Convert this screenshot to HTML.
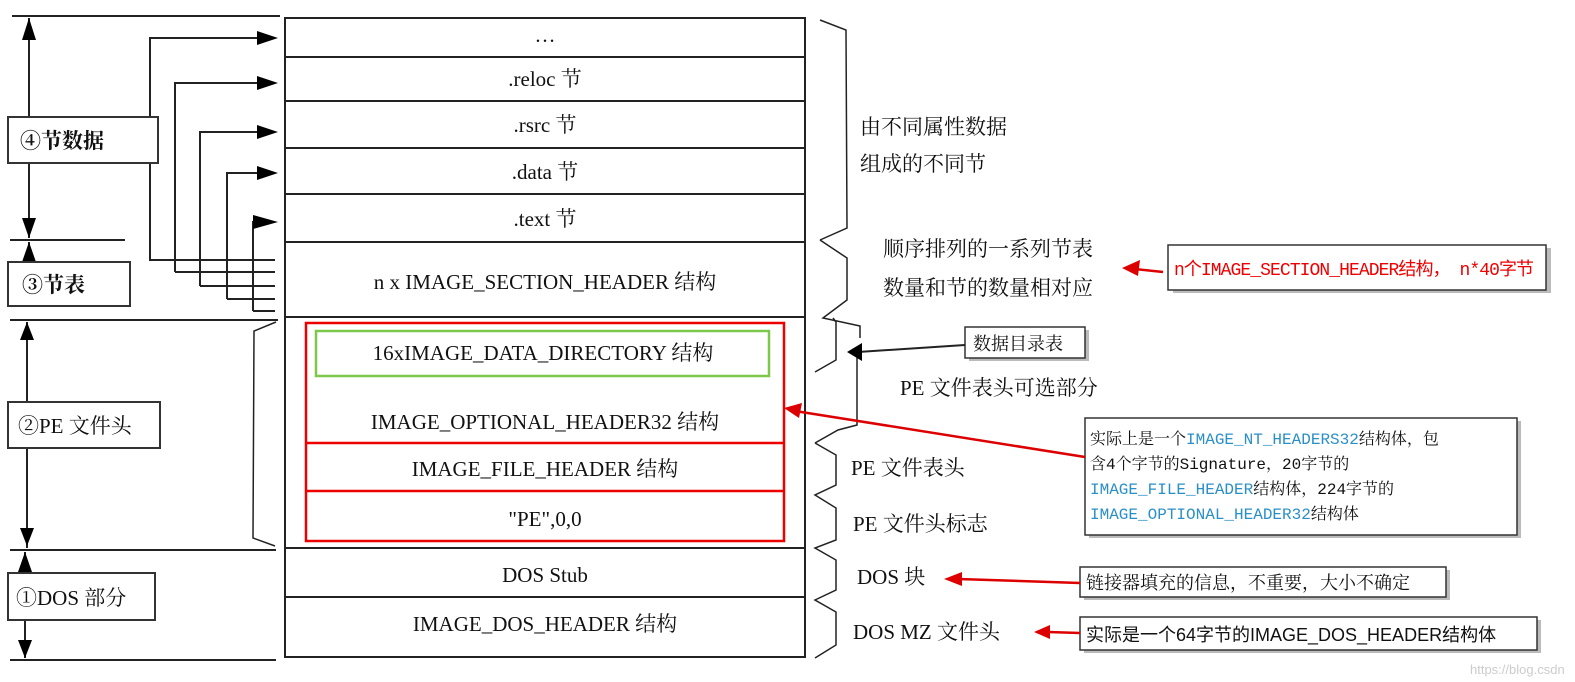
<!DOCTYPE html>
<html><head><meta charset="utf-8"><style>
html,body{margin:0;padding:0;background:#fff;}
svg{display:block;}
.s{font-family:"Liberation Serif","Noto Serif CJK SC",serif;font-size:21px;fill:#111;}
.c{font-family:"Liberation Serif","Noto Serif CJK SC",serif;font-size:18px;fill:#111;}
.m{font-family:"Liberation Mono","Noto Serif CJK SC",monospace;font-size:16px;fill:#111;}
.b{fill:#2a8fc8;}
</style></head><body>
<svg width="1575" height="682" viewBox="0 0 1575 682" xmlns="http://www.w3.org/2000/svg">
<g stroke="#222" stroke-width="2" fill="none">
<rect x="285" y="18" width="520" height="639"/>
<line x1="285" y1="57" x2="805" y2="57"/>
<line x1="285" y1="101" x2="805" y2="101"/>
<line x1="285" y1="148" x2="805" y2="148"/>
<line x1="285" y1="194" x2="805" y2="194"/>
<line x1="285" y1="242" x2="805" y2="242"/>
<line x1="285" y1="317" x2="805" y2="317"/>
<line x1="285" y1="548" x2="805" y2="548"/>
<line x1="285" y1="597" x2="805" y2="597"/>
<line x1="12" y1="16" x2="280" y2="16"/>
<line x1="10" y1="240" x2="125" y2="240"/>
<line x1="10" y1="320" x2="278" y2="320"/>
<line x1="10" y1="550" x2="276" y2="550"/>
<line x1="10" y1="660" x2="276" y2="660"/>
<line x1="29" y1="18" x2="29" y2="117"/><line x1="29" y1="163" x2="29" y2="238"/>
<line x1="29" y1="242" x2="29" y2="262"/>
<line x1="27" y1="322" x2="27" y2="402"/><line x1="27" y1="448" x2="27" y2="548"/>
<line x1="25" y1="552" x2="25" y2="573"/><line x1="25" y1="620" x2="25" y2="658"/>
<polyline points="150,117 150,38 260,38"/>
<polyline points="150,163 150,260 275,260"/>
<polyline points="175,272 175,83 260,83"/>
<polyline points="200,286 200,132 260,132"/>
<polyline points="227,299 227,173 260,173"/>
<polyline points="253,311 253,222 260,222"/>
<line x1="175" y1="272" x2="275" y2="272"/>
<line x1="200" y1="286" x2="275" y2="286"/>
<line x1="227" y1="299" x2="275" y2="299"/>
<line x1="253" y1="311" x2="275" y2="311"/>
<polyline points="276,322 254,331 253,538 275,546" stroke-width="1.5"/>
<polyline points="820,20 846,30 847,228 820,240" stroke-width="1.5"/>
<polyline points="820,240 847,258 847,300 823,318 860,326 860,338" stroke-width="1.5"/>
<polyline points="833,318 836,322 836,360 815,372" stroke-width="1.5"/>
<polyline points="857,355 857,425 838,430 815,443" stroke-width="1.5"/>
<polyline points="815,443 836,455 836,485 815,495 836,508 836,540 815,548 836,560 836,590 815,600 836,612 836,645 815,658" stroke-width="1.5"/>
</g>
<g fill="#000">
<path d="M22,40 L29,18 L36,40z"/><path d="M22,218 L29,238 L36,218z"/><path d="M22,262 L29,242 L36,262z"/>
<path d="M20,340 L27,322 L34,340z"/><path d="M20,528 L27,546 L34,528z"/><path d="M18,572 L25,552 L32,572z"/>
<path d="M18,640 L25,658 L32,640z"/>
<path d="M257,31 L278,38 L257,45z"/>
<path d="M257,76 L278,83 L257,90z"/>
<path d="M257,125 L278,132 L257,139z"/>
<path d="M257,166 L278,173 L257,180z"/>
<path d="M253,215 L278,222 L253,229z"/>
</g>
<g fill="#fff" stroke="#333" stroke-width="2">
<rect x="8" y="117" width="150" height="46"/><rect x="8" y="262" width="122" height="44"/>
<rect x="8" y="402" width="152" height="46"/><rect x="8" y="573" width="147" height="47"/>
</g>
<text class="s" x="20" y="148" style="font-weight:bold">④节数据</text>
<text class="s" x="22" y="292" style="font-weight:bold">③节表</text>
<text class="s" x="18" y="433">②PE 文件头</text>
<text class="s" x="16" y="605">①DOS 部分</text>
<g class="s" text-anchor="middle">
<text x="545" y="42">…</text>
<text x="545" y="86">.reloc 节</text>
<text x="545" y="132">.rsrc 节</text>
<text x="545" y="179">.data 节</text>
<text x="545" y="226">.text 节</text>
<text x="545" y="289">n x IMAGE_SECTION_HEADER 结构</text>
<text x="543" y="360">16xIMAGE_DATA_DIRECTORY 结构</text>
<text x="545" y="429">IMAGE_OPTIONAL_HEADER32 结构</text>
<text x="545" y="476">IMAGE_FILE_HEADER 结构</text>
<text x="545" y="526">"PE",0,0</text>
<text x="545" y="582">DOS Stub</text>
<text x="545" y="631">IMAGE_DOS_HEADER 结构</text>
</g>
<g fill="none" stroke-width="2.5">
<rect x="306" y="323" width="478" height="218" stroke="#e00"/>
<line x1="306" y1="443" x2="784" y2="443" stroke="#e00"/>
<line x1="306" y1="491" x2="784" y2="491" stroke="#e00"/>
<rect x="316" y="331" width="453" height="45" stroke="#7dc84a"/>
</g>
<g class="s">
<text x="860" y="134">由不同属性数据</text>
<text x="860" y="171">组成的不同节</text>
<text x="883" y="256">顺序排列的一系列节表</text>
<text x="883" y="295">数量和节的数量相对应</text>
<text x="900" y="395">PE 文件表头可选部分</text>
<text x="851" y="475">PE 文件表头</text>
<text x="853" y="531">PE 文件头标志</text>
<text x="857" y="584">DOS 块</text>
<text x="853" y="639">DOS MZ 文件头</text>
</g>
<g fill="#fff" stroke="#333" stroke-width="1.5">
<rect x="1173" y="248" width="378" height="45" fill="#bbb" stroke="none"/>
<rect x="1168" y="245" width="378" height="45"/>
<rect x="969" y="330" width="120" height="31" fill="#bbb" stroke="none"/>
<rect x="965" y="327" width="120" height="31"/>
<rect x="1089" y="421" width="432" height="117" fill="#bbb" stroke="none"/>
<rect x="1085" y="418" width="432" height="117"/>
<rect x="1084" y="570" width="366" height="30" fill="#bbb" stroke="none"/>
<rect x="1080" y="567" width="366" height="30"/>
<rect x="1084" y="620" width="457" height="33" fill="#bbb" stroke="none"/>
<rect x="1080" y="617" width="457" height="33"/>
</g>
<text x="1174" y="275" textLength="360" style="font-family:'Liberation Mono','Noto Sans CJK SC',monospace;font-size:18px;fill:#e00">n个IMAGE_SECTION_HEADER结构， n*40字节</text>
<text class="c" x="973" y="350">数据目录表</text>
<g class="m">
<text x="1090" y="444">实际上是一个<tspan class="b">IMAGE_NT_HEADERS32</tspan>结构体，包</text>
<text x="1090" y="469">含4个字节的Signature，20字节的</text>
<text x="1090" y="494"><tspan class="b">IMAGE_FILE_HEADER</tspan>结构体，224字节的</text>
<text x="1090" y="519"><tspan class="b">IMAGE_OPTIONAL_HEADER32</tspan>结构体</text>
</g>
<text class="c" x="1086" y="589">链接器填充的信息，不重要，大小不确定</text>
<text x="1086" y="641" style="font-family:'Liberation Sans','Noto Sans CJK SC',sans-serif;font-size:18px;fill:#111">实际是一个64字节的IMAGE_DOS_HEADER结构体</text>
<g stroke-width="2.5" fill="none">
<line x1="1163" y1="272" x2="1135" y2="269" stroke="#d00"/>
<line x1="1085" y1="457" x2="795" y2="411" stroke="#d00"/>
<line x1="1080" y1="583" x2="958" y2="579" stroke="#d00"/>
<line x1="1080" y1="633" x2="1048" y2="632" stroke="#d00"/>
<line x1="965" y1="345" x2="858" y2="352" stroke="#222" stroke-width="2"/>
</g>
<g fill="#d00">
<path d="M1122,268 L1140,260 L1138,276z"/>
<path d="M784,408 L802,403 L799,418z"/>
<path d="M944,579 L962,572 L962,586z"/>
<path d="M1034,632 L1050,625 L1050,639z"/>
</g>
<path d="M847,352 L862,343 L862,361z" fill="#000"/>
<text x="1470" y="674" style="font-family:'Liberation Sans',sans-serif;font-size:13px;fill:#ccc">https://blog.csdn</text>
</svg>
</body></html>
